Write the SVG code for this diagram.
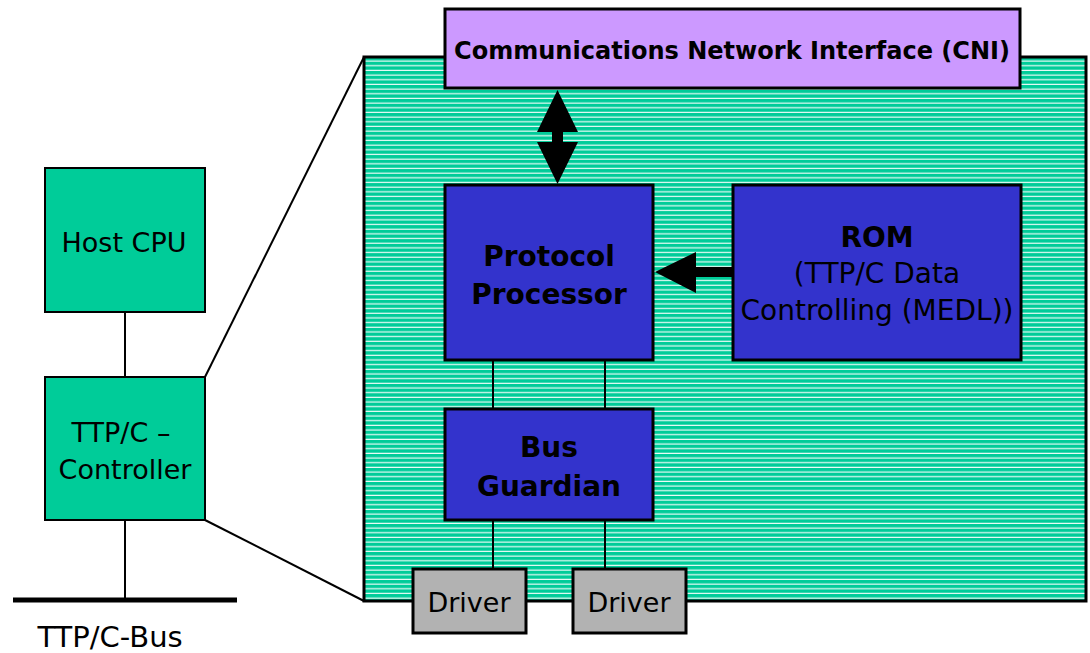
<svg xmlns="http://www.w3.org/2000/svg" width="1090" height="653" viewBox="0 0 1090 653">
  <defs>
    <pattern id="stripes" patternUnits="userSpaceOnUse" x="0" y="57" width="10" height="4.67">
      <rect width="10" height="4.67" fill="#00CC99"/>
      <rect y="3.5" width="10" height="1.1" fill="#FFFFFF"/>
    </pattern>
  </defs>
  <style>
    .box { stroke: #000; stroke-width: 3; }
    .green { fill: #00CC99; stroke: #000; stroke-width: 2; }
    .blue { fill: #3333CC; }
    .purple { fill: #CC99FF; }
    .gray { fill: #B2B2B2; }
    .wire { stroke: #000; stroke-width: 2; fill: none; }
    .t { font-family: "DejaVu Sans", "Liberation Sans", sans-serif; fill: #000; text-anchor: middle; }
    .b { font-weight: bold; }
  </style>

  <!-- controller detail panel -->
  <g id="panel">
    <rect x="364" y="57" width="722" height="544" fill="url(#stripes)" stroke="#000" stroke-width="3"/>
  </g>

  <g id="connectors">
    <!-- zoom lines from controller to detail panel -->
    <line class="wire" x1="205" y1="377" x2="364" y2="57"/>
    <line class="wire" x1="205" y1="520" x2="364" y2="601"/>
    <!-- host to controller, controller to bus -->
    <line class="wire" x1="125" y1="312" x2="125" y2="377"/>
    <line class="wire" x1="125" y1="520" x2="125" y2="600"/>
    <line x1="13" y1="600" x2="237" y2="600" stroke="#000" stroke-width="5"/>
    <!-- processor to guardian, guardian to drivers -->
    <line class="wire" x1="493" y1="360" x2="493" y2="408"/>
    <line class="wire" x1="605" y1="360" x2="605" y2="408"/>
    <line class="wire" x1="493" y1="520" x2="493" y2="569"/>
    <line class="wire" x1="605" y1="520" x2="605" y2="569"/>
    <!-- CNI <-> protocol processor -->
    <polygon fill="#000" points="557.5,90 578,132 563,132 563,142 578,142 557.5,184 537,142 552,142 552,132 537,132"/>
    <!-- ROM -> protocol processor -->
    <polygon fill="#000" points="655,272 696,252 696,267 734,267 734,277 696,277 696,293"/>
  </g>

  <g id="cni">
    <rect class="box purple" x="445" y="9" width="575" height="79"/>
    <text class="t" x="732" y="59" font-size="24" font-weight="600" textLength="556" lengthAdjust="spacingAndGlyphs">Communications Network Interface (CNI)</text>
  </g>

  <g id="protocol-processor">
    <rect class="box blue" x="445" y="185" width="208" height="175"/>
    <text class="t b" x="549" y="266" font-size="28">Protocol</text>
    <text class="t b" x="549" y="304" font-size="28">Processor</text>
  </g>

  <g id="rom">
    <rect class="box blue" x="733" y="185" width="288" height="175"/>
    <text class="t b" x="877" y="247" font-size="28">ROM</text>
    <text class="t" x="877" y="283" font-size="28">(TTP/C Data</text>
    <text class="t" x="877" y="320" font-size="28">Controlling (MEDL))</text>
  </g>

  <g id="bus-guardian">
    <rect class="box blue" x="445" y="409" width="208" height="111"/>
    <text class="t b" x="549" y="457" font-size="28">Bus</text>
    <text class="t b" x="549" y="496" font-size="28">Guardian</text>
  </g>

  <g id="driver-1">
    <rect class="box gray" x="413" y="569" width="113" height="64"/>
    <text class="t" x="469" y="612" font-size="27">Driver</text>
  </g>

  <g id="driver-2">
    <rect class="box gray" x="573" y="569" width="113" height="64"/>
    <text class="t" x="629" y="612" font-size="27">Driver</text>
  </g>

  <g id="host-cpu">
    <rect class="green" x="45" y="168" width="160" height="144"/>
    <text class="t" x="124" y="252" font-size="27">Host CPU</text>
  </g>

  <g id="ttpc-controller">
    <rect class="green" x="45" y="377" width="160" height="143"/>
    <text class="t" x="121" y="442" font-size="27">TTP/C –</text>
    <text class="t" x="125" y="479" font-size="27">Controller</text>
  </g>

  <g id="bus-label">
    <text class="t" x="110" y="647" font-size="29">TTP/C-Bus</text>
  </g>
</svg>
